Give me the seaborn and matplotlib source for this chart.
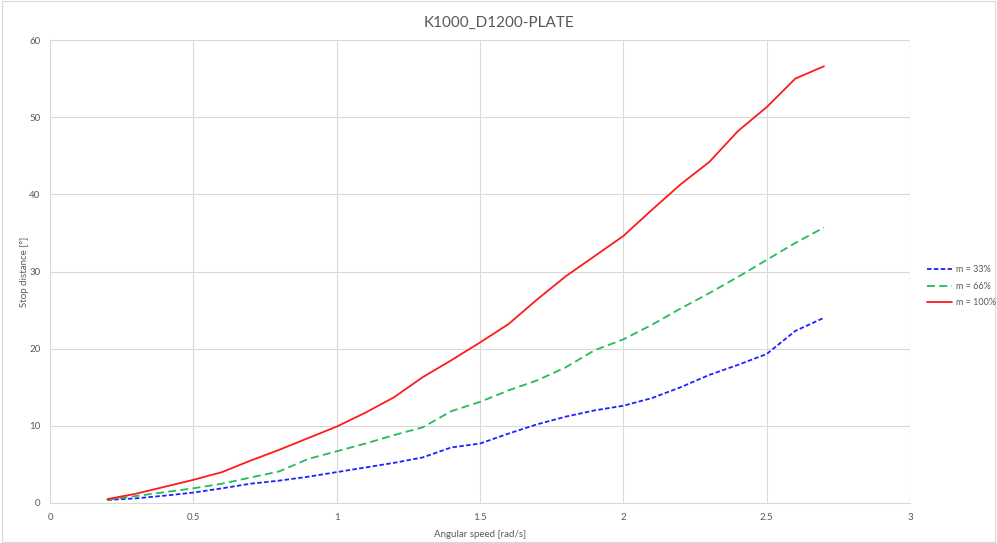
import numpy as np
import pandas as pd
import matplotlib
matplotlib.use("Agg")
import matplotlib.pyplot as plt
import seaborn as sns

# angular speed [rad/s]
speed = [0.2, 0.3, 0.4, 0.5, 0.6, 0.7, 0.8, 0.9, 1.0, 1.1, 1.2, 1.3, 1.4,
         1.5, 1.6, 1.7, 1.8, 1.9, 2.0, 2.1, 2.2, 2.3, 2.4, 2.5, 2.6, 2.7]

# stop distance [°] per load
m33 = [0.4, 0.6, 0.95, 1.35, 1.9, 2.5, 2.9, 3.4, 4.0, 4.6, 5.2, 5.9, 7.2,
       7.7, 9.0, 10.2, 11.2, 12.0, 12.6, 13.6, 15.0, 16.6, 17.9, 19.3, 22.3, 24.0]
m66 = [0.4, 0.9, 1.4, 1.9, 2.5, 3.3, 4.1, 5.7, 6.7, 7.7, 8.8, 9.8, 11.9,
       13.1, 14.6, 15.9, 17.6, 19.8, 21.2, 23.1, 25.2, 27.2, 29.3, 31.5, 33.7, 35.7]
m100 = [0.5, 1.2, 2.1, 3.0, 4.0, 5.5, 6.9, 8.4, 9.9, 11.7, 13.7, 16.3, 18.5,
        20.8, 23.2, 26.4, 29.4, 32.0, 34.6, 38.0, 41.3, 44.2, 48.2, 51.3, 55.0, 56.6]

labels = ["m = 33%", "m = 66%", "m = 100%"]
colors = {"m = 33%": "#2020ff", "m = 66%": "#25bb5a", "m = 100%": "#ff1a1a"}
dashes = {"m = 33%": (2.5, 1.3), "m = 66%": (4.4, 2.4), "m = 100%": ""}

df = pd.concat([
    pd.DataFrame({"speed": speed, "dist": vals, "series": lab})
    for lab, vals in zip(labels, [m33, m66, m100])
])

sns.set_style("white")
plt.rcParams["font.family"] = ["Lato", "DejaVu Sans"]
text_col = "#595959"
grid_col = "#d9d9d9"

fig = plt.figure(figsize=(9.97, 5.43), dpi=100)
ax = fig.add_axes([0.0502, 0.0737, 0.8625, 0.8526])

sns.lineplot(data=df, x="speed", y="dist", hue="series", style="series",
             palette=colors, dashes=dashes, hue_order=labels, style_order=labels,
             linewidth=1.3, ax=ax, legend=False)

ax.set_xlim(0, 3)
ax.set_ylim(0, 60)
ax.set_xticks([0, 0.5, 1, 1.5, 2, 2.5, 3])
ax.set_xticklabels(["0", "0.5", "1", "1.5", "2", "2.5", "3"])
ax.set_yticks(range(0, 61, 10))
ax.grid(True, color=grid_col, linewidth=0.8)
ax.set_axisbelow(True)
for side in ["top", "right"]:
    ax.spines[side].set_visible(False)
for side in ["left", "bottom"]:
    ax.spines[side].set_color(grid_col)
    ax.spines[side].set_linewidth(0.8)
ax.tick_params(length=0, labelsize=7, labelcolor=text_col, pad=7)

ax.set_xlabel("Angular speed [rad/s]", fontsize=7, color=text_col, labelpad=6)
ax.set_ylabel("Stop distance [°]", fontsize=7, color=text_col)
ax.yaxis.set_label_coords(-0.025, 0.5)
fig.suptitle("K1000_D1200-PLATE", fontsize=11, color=text_col, y=0.97)

handles = [plt.Line2D([], [], color=colors[l], linewidth=1.3,
                      dashes=dashes[l] if dashes[l] else (None, None)) for l in labels]
fig.legend(handles, labels, loc="center left", bbox_to_anchor=(0.93, 0.473),
           frameon=False, fontsize=6.5, labelcolor=text_col, handlelength=2.8,
           handletextpad=0.4, labelspacing=0.85, borderaxespad=0, borderpad=0)

# light chart border like the source
fig.patches.append(plt.Rectangle((0.002, 0.002), 0.996, 0.996, transform=fig.transFigure,
                                 fill=False, edgecolor=grid_col, linewidth=0.8))

fig.savefig("out.png", dpi=100, facecolor="white")
